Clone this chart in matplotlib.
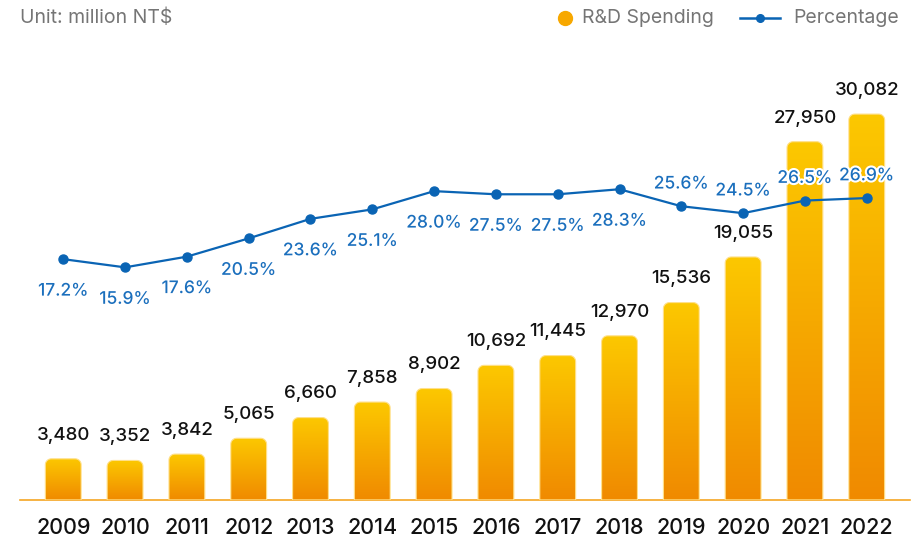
import numpy as np
import matplotlib
matplotlib.use("Agg")
import matplotlib.pyplot as plt
from matplotlib.colors import LinearSegmentedColormap
from matplotlib.patches import Polygon
from matplotlib.lines import Line2D
import matplotlib.patheffects as pe

# data
years = ['2009', '2010', '2011', '2012', '2013', '2014', '2015',
         '2016', '2017', '2018', '2019', '2020', '2021', '2022']
rd_spending = [3480, 3352, 3842, 5065, 6660, 7858, 8902,
               10692, 11445, 12970, 15536, 19055, 27950, 30082]
percentage = [17.2, 15.9, 17.6, 20.5, 23.6, 25.1, 28.0,
              27.5, 27.5, 28.3, 25.6, 24.5, 26.5, 26.9]

plt.rcParams['font.family'] = ['Inter', 'DejaVu Sans']

W, H = 917, 543
fig = plt.figure(figsize=(W / 100, H / 100), dpi=100)
ax = fig.add_axes([20 / W, 43 / H, 890 / W, 460 / H])

x = np.arange(len(years))
ymin, ymax = 300, 35800
ax.set_xlim(-0.7, 13.7)
ax.set_ylim(ymin, ymax)

bar_cmap = LinearSegmentedColormap.from_list('rd', ['#f08a00', '#fcc800'])
grad = np.linspace(0, 1, 256).reshape(-1, 1)

bars = ax.bar(x, rd_spending, width=0.58)
# corner radius in data units (~6 px)
rx = 6 / 61.8
ry = 6 / (460 / (ymax - ymin))
for b in bars:
    x0, w, h = b.get_x(), b.get_width(), b.get_height()
    b.set_visible(False)
    t = np.linspace(0, np.pi / 2, 10)
    right = [(x0 + w - rx + rx * np.cos(a), h - ry + ry * np.sin(a)) for a in t]
    left = [(x0 + rx - rx * np.sin(a), h - ry + ry * np.cos(a)) for a in t]
    pts = [(x0 + w, ymin)] + right + left + [(x0, ymin)]
    poly = Polygon(pts, closed=True, facecolor='none', edgecolor='#ffe08a',
                   lw=0.8, zorder=3, transform=ax.transData)
    ax.add_patch(poly)
    im = ax.imshow(grad, extent=[x0, x0 + w, ymin, h], aspect='auto', cmap=bar_cmap,
                   origin='lower', zorder=2)
    im.set_clip_path(poly)
    ax.annotate(f'{int(h):,}', (x0 + w / 2, h), xytext=(0, 17), textcoords='offset points',
                ha='center', va='center', fontsize=13.5, color='#111111',
                fontweight='medium', zorder=4)

ax.set_xlim(-0.7, 13.7)
ax.set_ylim(ymin, ymax)
ax.set_xticks(x)
ax.set_xticklabels(years, fontsize=15.5, color='#111111', fontweight='medium')
ax.tick_params(axis='x', length=0, pad=13)
ax.set_yticks([])
for s in ['top', 'left', 'right']:
    ax.spines[s].set_visible(False)
ax.spines['bottom'].set_color('#f5a623')
ax.spines['bottom'].set_linewidth(1.2)

ax2 = ax.twinx()
ax2.set_ylim(-21.03, 51.99)
ax2.plot(x, percentage, color='#0a64b4', lw=1.6, marker='o', markersize=6.5, zorder=5)
ax2.set_yticks([])
for s in ax2.spines.values():
    s.set_visible(False)
for i, v in enumerate(percentage):
    dy = -23 if i < 10 else 16
    ax2.annotate(f'{v}%', (x[i], v), xytext=(0, dy), textcoords='offset points',
                 ha='center', va='center', fontsize=12.5, color='#1b6fbd', zorder=6,
                 fontweight='medium',
                 path_effects=[pe.withStroke(linewidth=3, foreground='white')])

fig.text(20 / W, 1 - 18 / H, 'Unit: million NT$', fontsize=14, color='#757575',
         ha='left', va='center')

# legend drawn by hand in figure pixels
ly = 1 - 18 / H
fig.add_artist(Line2D([565 / W], [ly], marker='o', color='#f7a800', markersize=10,
                      linestyle='none', transform=fig.transFigure))
fig.text(582 / W, ly, 'R&D Spending', fontsize=14, color='#757575', ha='left', va='center')
fig.add_artist(Line2D([740 / W, 780 / W], [ly, ly], color='#0a64b4', lw=1.8,
                      transform=fig.transFigure))
fig.add_artist(Line2D([760 / W], [ly], marker='o', color='#0a64b4', markersize=5.5,
                      linestyle='none', transform=fig.transFigure))
fig.text(793 / W, ly, 'Percentage', fontsize=14, color='#757575', ha='left', va='center')

fig.savefig('out.png', dpi=100)
